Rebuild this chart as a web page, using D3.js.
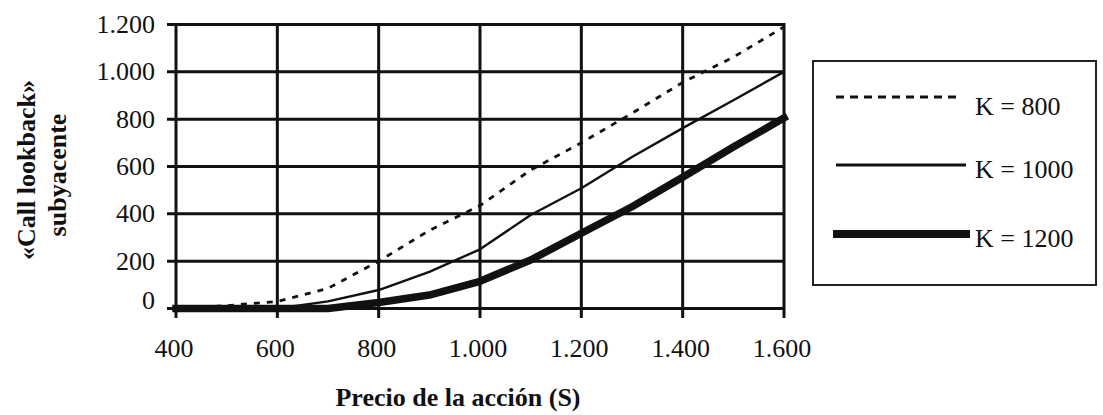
<!DOCTYPE html>
<html><head><meta charset="utf-8">
<script src="https://cdn.jsdelivr.net/npm/d3@7"></script>
<style>body{margin:0;background:#fff}svg{display:block}text{font-family:"Liberation Serif","Times New Roman",serif}</style>
</head><body><svg id="c" width="1103" height="415"></svg>
<script>
const prices = [400,500,600,700,800,900,1000,1100,1200,1300,1400,1500,1600];
const k800  = [0,12,30,85,200,330,435,585,700,825,955,1062,1190];
const k1000 = [0,0,0,30,78,155,250,395,508,640,762,880,1000];
const k1200 = [0,0,0,0,25,57,115,205,318,430,555,682,805];
const xTicks = [400,600,800,1000,1200,1400,1600];
const yTicks = [0,200,400,600,800,1000,1200];
const seriesNames = ["K = 800","K = 1000","K = 1200"];
const yTitle = ["«Call lookback»","subyacente"];
const xTitle = "Precio de la acción (S)";

const fmt = d => d3.format(",")(d).replace(/,/g,".");
const svg = d3.select("#c");
const x = d3.scaleLinear().domain([400,1600]).range([176,784]);
const y = d3.scaleLinear().domain([0,1200]).range([308.5,24.5]);

// grid
svg.append("g").selectAll("line").data(yTicks).join("line")
  .attr("x1",167).attr("x2",785).attr("y1",d=>y(d)).attr("y2",d=>y(d))
  .attr("stroke","#111").attr("stroke-width",3);
svg.append("g").selectAll("line").data(xTicks).join("line")
  .attr("y1",23).attr("y2",318).attr("x1",d=>x(d)).attr("x2",d=>x(d))
  .attr("stroke","#111").attr("stroke-width",3);

// tick labels
svg.append("g").selectAll("text").data(yTicks).join("text")
  .attr("x",155).attr("y",d=>y(d)+(d===0?0:8.5)).attr("text-anchor","end")
  .attr("font-size",26).attr("fill","#111").text(fmt);
svg.append("g").selectAll("text").data(xTicks).join("text")
  .attr("x",d=>x(d)-2).attr("y",357).attr("text-anchor","middle")
  .attr("font-size",26).attr("fill","#111").text(fmt);

// titles
svg.append("text").attr("x",458).attr("y",406).attr("text-anchor","middle")
  .attr("font-size",26).attr("font-weight","bold").attr("fill","#111").text(xTitle);
const yc = [170,175];
yTitle.forEach((t,i)=>{
  svg.append("g").attr("transform",`translate(0,${yc[i]}) rotate(-90)`)
    .append("text").attr("x",0).attr("y",i===0?35:66).attr("text-anchor","middle")
    .attr("font-size",26).attr("font-weight","bold").attr("fill","#111").text(t);
});

const styles = [
  {w:2.8, dash:"6,7", cap:"butt"},
  {w:2.4, dash:null, cap:"butt"},
  {w:7.5, dash:null, cap:"square"}
];
const data = [k800,k1000,k1200];
const line = d3.line().x((d,i)=>x(prices[i])).y(d=>y(d));
data.forEach((s,i)=>{
  svg.append("path").datum(s).attr("d",line).attr("fill","none")
    .attr("stroke","#111").attr("stroke-width",styles[i].w)
    .attr("stroke-dasharray",styles[i].dash).attr("stroke-linejoin","round")
    .attr("stroke-linecap",styles[i].cap);
});

// legend
svg.append("rect").attr("x",813).attr("y",61).attr("width",283).attr("height",224)
  .attr("fill","#fff").attr("stroke","#222").attr("stroke-width",2);
const ly = [97,165,234];
const tb = [115,178,247];
const lx2 = [957,966,970];
seriesNames.forEach((n,i)=>{
  svg.append("line").attr("x1",i===2?833:836).attr("x2",lx2[i]).attr("y1",ly[i]).attr("y2",ly[i])
    .attr("stroke","#111").attr("stroke-width",i===2?8:3)
    .attr("stroke-dasharray",i===0?"8,6":null);
  svg.append("text").attr("x",975).attr("y",tb[i]).attr("font-size",26)
    .attr("fill","#111").text(n);
});
</script></body></html>
